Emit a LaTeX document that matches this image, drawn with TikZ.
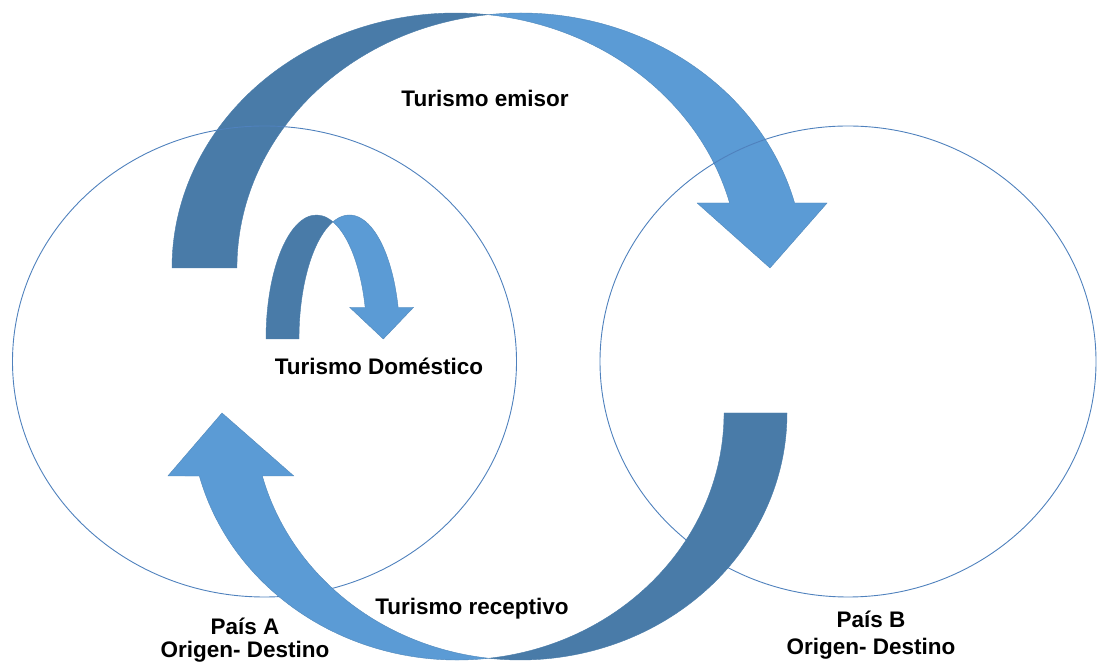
\documentclass[tikz,border=0pt]{standalone}
\usepackage{fontspec}
\setmainfont{Liberation Sans}
\usetikzlibrary{shapes.geometric}
\definecolor{dkblue}{HTML}{497BA8}
\definecolor{ltblue}{HTML}{5B9BD5}
\definecolor{rimblue}{HTML}{4F81BD}
\begin{document}
\begin{tikzpicture}[x=1pt,y=1pt,
  country/.style={ellipse, draw=rimblue, line width=0.9pt, inner sep=0pt},
  backpart/.style={fill=dkblue, draw=dkblue, line width=0.4pt, line join=round},
  frontpart/.style={fill=ltblue, draw=ltblue!88!black, line width=0.4pt, line join=round},
  lbl/.style={font=\bfseries\fontsize{22.5}{23}\selectfont, text=black, inner sep=0pt}
]
\useasboundingbox (0,0) rectangle (1097,663);

% Turismo emisor arrow (behind the countries)
\path[backpart] (172,395)
  arc[start angle=180,end angle=83.42,x radius=283.5,y radius=255]
  arc[start angle=96.58,end angle=180,x radius=283.5,y radius=255] -- cycle;
\path[frontpart] (488,648.3)
  arc[start angle=96.58,end angle=14.77,x radius=283.5,y radius=255]
  -- (827.1,460) -- (770,395) -- (697.1,460) -- (729.6,460)
  arc[start angle=14.77,end angle=83.42,x radius=283.5,y radius=255] -- cycle;

% countries
\node[country, minimum width=504pt, minimum height=471pt] (paisA) at (264.5,301.5) {};
\node[country, minimum width=496pt, minimum height=471pt] (paisB) at (848,301.5) {};

% Turismo receptivo arrow
\path[backpart] (787,250)
  arc[start angle=360,end angle=263.22,x radius=266.75,y radius=247]
  arc[start angle=276.78,end angle=360,x radius=266.75,y radius=247] -- cycle;
\path[frontpart] (488.76,4.73)
  arc[start angle=276.78,end angle=194.78,x radius=266.75,y radius=247]
  -- (167.85,187) -- (222,250) -- (293.83,187) -- (262.33,187)
  arc[start angle=194.78,end angle=263.22,x radius=266.75,y radius=247] -- cycle;

% Turismo domestico arrow
\path[backpart] (266,324)
  arc[start angle=180,end angle=70.89,x radius=50.4,y radius=124]
  arc[start angle=109.11,end angle=180,x radius=50.4,y radius=124] -- cycle;
\path[frontpart] (332.9,441.17)
  arc[start angle=109.11,end angle=14.81,x radius=50.4,y radius=124]
  -- (413.6,355.7) -- (383.3,324) -- (349.6,355.7) -- (365.13,355.7)
  arc[start angle=14.81,end angle=70.89,x radius=50.4,y radius=124] -- cycle;

% labels
\node[lbl, anchor=base] (emisor) at (485,556) {Turismo emisor};
\node[lbl, anchor=base] (domestico) at (379,288) {Turismo Doméstico};
\node[lbl, anchor=base] (receptivo) at (472,48) {Turismo receptivo};
\node[lbl, anchor=base, align=center] (labelA) at (245,5) {País A\\Origen- Destino};
\node[lbl, anchor=base, align=center, font=\bfseries\fontsize{22.5}{27}\selectfont] (labelB) at (871,8) {País B\\Origen- Destino};
\end{tikzpicture}
\end{document}
